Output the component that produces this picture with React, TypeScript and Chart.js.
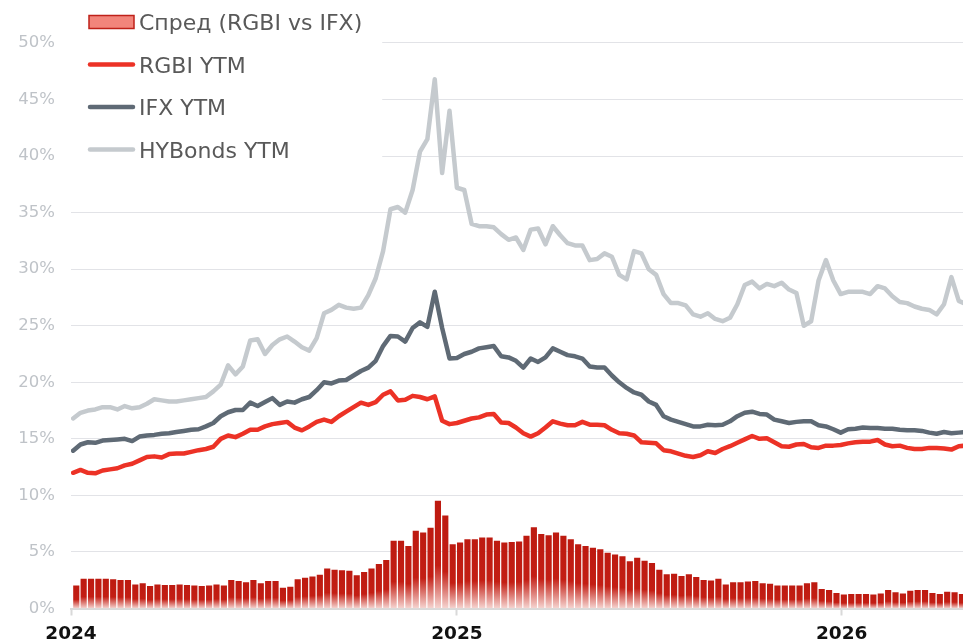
import React, { useEffect, useRef } from 'react';
import { Chart, registerables } from 'chart.js';

Chart.register(...registerables);

// ---- data -------------------------------------------------------------
const AXIS_START = '2024-01-01';
const AXIS_END = '2026-04-26';
const LINE_WEEK_START = '2024-01-03';
const BAR_WEEK_START = '2024-01-06';
const yearLabels = ['2024', '2025', '2026'];

const legendLabels = ['Спред (RGBI vs IFX)', 'RGBI YTM', 'IFX YTM', 'HYBonds YTM'];

const hyYtm = [
  16.8, 17.3, 17.5, 17.6, 17.8, 17.8, 17.6, 17.9, 17.7, 17.8,
  18.1, 18.5, 18.4, 18.3, 18.3, 18.4, 18.5, 18.6, 18.7, 19.2,
  19.8, 21.5, 20.7, 21.4, 23.7, 23.8, 22.5, 23.3, 23.8, 24.05,
  23.6, 23.1, 22.8, 23.9, 26.1, 26.4, 26.85, 26.6, 26.5, 26.6,
  27.7, 29.2, 31.6, 35.3, 35.5, 35.0, 37.0, 40.4, 41.5, 46.8,
  38.5, 44.0, 37.2, 37.0, 34.0, 33.8, 33.8, 33.7, 33.1, 32.6,
  32.8, 31.7, 33.5, 33.6, 32.2, 33.8, 33.0, 32.3, 32.1, 32.1,
  30.8, 30.9, 31.4, 31.1, 29.5, 29.1, 31.6, 31.4, 30.0, 29.5,
  27.8, 27.0, 27.0, 26.8, 26.0, 25.8, 26.1, 25.6, 25.4, 25.7,
  26.9, 28.6, 28.9, 28.3, 28.7, 28.5, 28.8, 28.2, 27.9, 25.0,
  25.4, 29.0, 30.8, 29.0, 27.8, 28.0, 28.0, 28.0, 27.8, 28.5,
  28.3, 27.6, 27.1, 27.0, 26.7, 26.5, 26.4, 26.0, 26.9, 29.3,
  27.2, 26.9,
];

const ifxYtm = [
  13.95, 14.5, 14.7, 14.65, 14.85, 14.9, 14.95, 15.0, 14.8, 15.2,
  15.3, 15.35, 15.45, 15.5, 15.6, 15.7, 15.8, 15.85, 16.1, 16.4,
  17.0, 17.35, 17.55, 17.55, 18.2, 17.9, 18.25, 18.6, 18.0, 18.3,
  18.2, 18.5, 18.7, 19.3, 20.0, 19.9, 20.15, 20.2, 20.6, 21.0,
  21.3, 21.9, 23.2, 24.1, 24.05, 23.6, 24.8, 25.3, 24.9, 28.0,
  24.8, 22.1, 22.15, 22.5, 22.7, 23.0, 23.1, 23.2, 22.3, 22.2,
  21.9, 21.3, 22.1, 21.8, 22.2, 23.0, 22.7, 22.4, 22.3, 22.1,
  21.4, 21.3, 21.3, 20.6, 20.0, 19.5, 19.1, 18.9, 18.3, 18.0,
  17.0, 16.7, 16.5, 16.3, 16.1, 16.1, 16.25, 16.2, 16.25, 16.55,
  17.0, 17.3, 17.4, 17.2, 17.15, 16.7, 16.55, 16.4, 16.5, 16.55,
  16.55, 16.2, 16.1, 15.85, 15.55, 15.85, 15.9, 16.0, 15.95, 15.95,
  15.9, 15.9, 15.8, 15.75, 15.75, 15.7, 15.55, 15.45, 15.6, 15.5,
  15.55, 15.6,
];

const rgbiYtm = [
  12.0, 12.25, 12.0, 11.95, 12.2, 12.3, 12.4, 12.65, 12.8, 13.1,
  13.4, 13.45, 13.35, 13.65, 13.7, 13.7, 13.85, 14.0, 14.1, 14.3,
  15.0, 15.3, 15.15, 15.45, 15.8, 15.8, 16.1, 16.3, 16.4, 16.5,
  16.0, 15.75, 16.1, 16.5, 16.7, 16.5, 17.0, 17.4, 17.8, 18.2,
  18.0, 18.25, 18.9, 19.2, 18.4, 18.45, 18.8, 18.7, 18.5, 18.75,
  16.6, 16.3, 16.4, 16.6, 16.8, 16.9, 17.15, 17.2, 16.45, 16.4,
  16.0, 15.5, 15.2, 15.5, 16.0, 16.55, 16.35, 16.2, 16.2, 16.5,
  16.25, 16.25, 16.2, 15.8, 15.5, 15.45, 15.3, 14.7, 14.65, 14.6,
  14.0, 13.9, 13.7, 13.5, 13.4, 13.55, 13.9, 13.75, 14.1, 14.35,
  14.65, 14.95, 15.25, 15.0, 15.05, 14.7, 14.35, 14.3, 14.5, 14.55,
  14.25, 14.2, 14.4, 14.4, 14.45, 14.6, 14.7, 14.75, 14.75, 14.9,
  14.5, 14.35, 14.4, 14.2, 14.1, 14.1, 14.2, 14.2, 14.15, 14.05,
  14.35, 14.4,
];

const spread = [
  2.0, 2.6, 2.6, 2.6, 2.6, 2.55, 2.5, 2.5, 2.1, 2.2,
  1.95, 2.1, 2.05, 2.05, 2.1, 2.05, 2.0, 1.95, 2.0, 2.1,
  2.0, 2.5, 2.4, 2.3, 2.5, 2.2, 2.4, 2.4, 1.8, 1.9,
  2.55, 2.7, 2.8, 2.95, 3.5, 3.4, 3.35, 3.3, 2.9, 3.2,
  3.5, 3.9, 4.25, 5.95, 5.95, 5.5, 6.85, 6.7, 7.1, 9.5,
  8.2, 5.65, 5.8, 6.1, 6.1, 6.25, 6.25, 5.95, 5.8, 5.85,
  5.9, 6.4, 7.15, 6.55, 6.45, 6.7, 6.4, 6.1, 5.65, 5.5,
  5.35, 5.2, 4.9, 4.75, 4.6, 4.15, 4.45, 4.2, 4.0, 3.4,
  3.0, 3.05, 2.85, 3.0, 2.75, 2.5, 2.45, 2.6, 2.1, 2.3,
  2.3, 2.35, 2.4, 2.2, 2.15, 2.0, 2.0, 2.0, 2.0, 2.2,
  2.3, 1.7, 1.6, 1.35, 1.2, 1.25, 1.25, 1.25, 1.2, 1.3,
  1.6, 1.4, 1.3, 1.55, 1.6, 1.6, 1.35, 1.25, 1.45, 1.4,
  1.25,
];

// ---- styles -----------------------------------------------------------
const RGBI_COLOR = '#EC3226';
const IFX_COLOR = '#5F6A75';
const HY_COLOR = '#C5CACE';
const BAR_DARK = '#BD1A10';
const BAR_LIGHT = '#F6D6D2';
const LEGEND_BOX_FILL = '#F2857B';
const LEGEND_BOX_STROKE = '#BF2119';
const FONT = "'DejaVu Sans', sans-serif";

const DAY = 86400000;
const dayOf = (iso: string) => (Date.parse(iso) - Date.parse(AXIS_START)) / DAY;
const weekDays = (start: string, n: number) => {
  const d0 = dayOf(start);
  return Array.from({ length: n }, (_, i) => d0 + 7 * i);
};

const overlayLegend = {
  id: 'overlayLegend',
  beforeDatasetsDraw(chart: any) {
    const { ctx, chartArea } = chart;
    const colors = [null, RGBI_COLOR, IFX_COLOR, HY_COLOR];
    const x0 = 88;
    const markerW = 46;
    const textX = 139;
    const centers = [22, 64.5, 107, 149.5];
    ctx.save();
    ctx.font = `22px ${FONT}`;
    let maxW = 0;
    legendLabels.forEach((l) => { maxW = Math.max(maxW, ctx.measureText(l).width); });
    ctx.fillStyle = '#ffffff';
    ctx.fillRect(chartArea.left, chartArea.top, textX + maxW + 20 - chartArea.left, 170 - chartArea.top);
    legendLabels.forEach((label, i) => {
      const cy = centers[i];
      if (i === 0) {
        ctx.fillStyle = LEGEND_BOX_FILL;
        ctx.strokeStyle = LEGEND_BOX_STROKE;
        ctx.lineWidth = 1.5;
        ctx.fillRect(x0 + 1, cy - 6.5, markerW - 1, 13);
        ctx.strokeRect(x0 + 1, cy - 6.5, markerW - 1, 13);
      } else {
        ctx.strokeStyle = colors[i] as string;
        ctx.lineWidth = 4.5;
        ctx.lineCap = 'round';
        ctx.beginPath();
        ctx.moveTo(x0 + 2, cy);
        ctx.lineTo(x0 + markerW - 1, cy);
        ctx.stroke();
      }
      ctx.fillStyle = '#595959';
      ctx.textBaseline = 'alphabetic';
      ctx.textAlign = 'left';
      ctx.fillText(label, textX, cy + 8);
    });
    ctx.restore();
  },
};

export default function App() {
  const ref = useRef<HTMLCanvasElement>(null);

  useEffect(() => {
    const canvas = ref.current;
    if (!canvas) return;
    const lineX = weekDays(LINE_WEEK_START, hyYtm.length);
    const barX = weekDays(BAR_WEEK_START, spread.length);
    const toPts = (xs: number[], ys: number[]) => ys.map((y, i) => ({ x: xs[i], y }));

    const barFill = (c: any) => {
      const chart = c.chart;
      const area = chart.chartArea;
      if (!area || c.type !== 'data' || !chart.scales.y) return BAR_DARK;
      const y = chart.scales.y;
      const top = y.getPixelForValue(c.parsed.y);
      const bottom = y.getPixelForValue(0);
      if (!isFinite(top) || !isFinite(bottom) || bottom - top < 1) return BAR_DARK;
      const g = chart.ctx.createLinearGradient(0, top, 0, bottom);
      g.addColorStop(0, BAR_DARK);
      g.addColorStop(0.6, '#C31E14');
      g.addColorStop(1, BAR_LIGHT);
      return g;
    };

    const lineStyle = (color: string) => ({
      type: 'line' as const,
      borderColor: color,
      backgroundColor: color,
      borderWidth: 4.5,
      pointRadius: 0,
      tension: 0,
      borderJoinStyle: 'round' as const,
      borderCapStyle: 'round' as const,
      fill: false,
    });

    const chart = new Chart(canvas, {
      type: 'bar',
      data: {
        datasets: [
          { ...lineStyle(RGBI_COLOR), label: legendLabels[1], data: toPts(lineX, rgbiYtm) },
          { ...lineStyle(IFX_COLOR), label: legendLabels[2], data: toPts(lineX, ifxYtm) },
          { ...lineStyle(HY_COLOR), label: legendLabels[3], data: toPts(lineX, hyYtm) },
          {
            type: 'bar',
            label: legendLabels[0],
            data: toPts(barX, spread),
            backgroundColor: barFill,
            borderWidth: 0,
            barThickness: 5.5,
          } as any,
        ],
      },
      options: {
        responsive: false,
        animation: false,
        layout: { padding: 0 },
        plugins: {
          legend: { display: false },
          tooltip: { enabled: false },
        },
        scales: {
          x: {
            type: 'linear',
            min: 0,
            max: dayOf(AXIS_END),
            offset: false,
            grid: {
              offset: false,
              drawOnChartArea: false,
              drawTicks: true,
              tickLength: 7,
              tickColor: '#D9D9D9',
              tickWidth: 2,
            },
            border: { display: true, color: '#D9D9D9', width: 2 },
            afterBuildTicks: (axis: any) => {
              axis.ticks = yearLabels.map((y) => ({ value: dayOf(`${y}-01-01`) }));
            },
            afterFit: (axis: any) => {
              axis.height = 35.5;
              axis.paddingLeft = 0;
              axis.paddingRight = 0;
            },
            ticks: {
              padding: 8,
              maxRotation: 0,
              autoSkip: false,
              color: '#111111',
              font: { family: FONT, size: 18.5, weight: 'bold' },
              callback: (v: any) => String(new Date(Date.parse(AXIS_START) + Number(v) * DAY).getUTCFullYear()),
            },
          },
          y: {
            type: 'linear',
            min: 0,
            max: 53.8,
            grid: { color: '#E2E3E7', lineWidth: 1, drawTicks: false },
            border: { display: false },
            afterBuildTicks: (axis: any) => {
              axis.ticks = axis.ticks.filter((t: any) => t.value <= 50.001 && Math.abs(t.value % 5) < 1e-6);
            },
            afterFit: (axis: any) => {
              axis.width = 71;
              axis.paddingTop = 0;
              axis.paddingBottom = 0;
            },
            ticks: {
              stepSize: 5,
              padding: 16,
              color: '#BFC3C8',
              font: { family: FONT, size: 16.5 },
              callback: (v: any) => `${v}%`,
            },
          },
        },
      },
      plugins: [overlayLegend],
    } as any);

    return () => chart.destroy();
  }, []);

  return (
    <div style={{ position: 'absolute', left: 0, top: 0, width: 963, height: 644, background: '#fff' }}>
      <canvas ref={ref} width={963} height={644} style={{ display: 'block' }} />
    </div>
  );
}
